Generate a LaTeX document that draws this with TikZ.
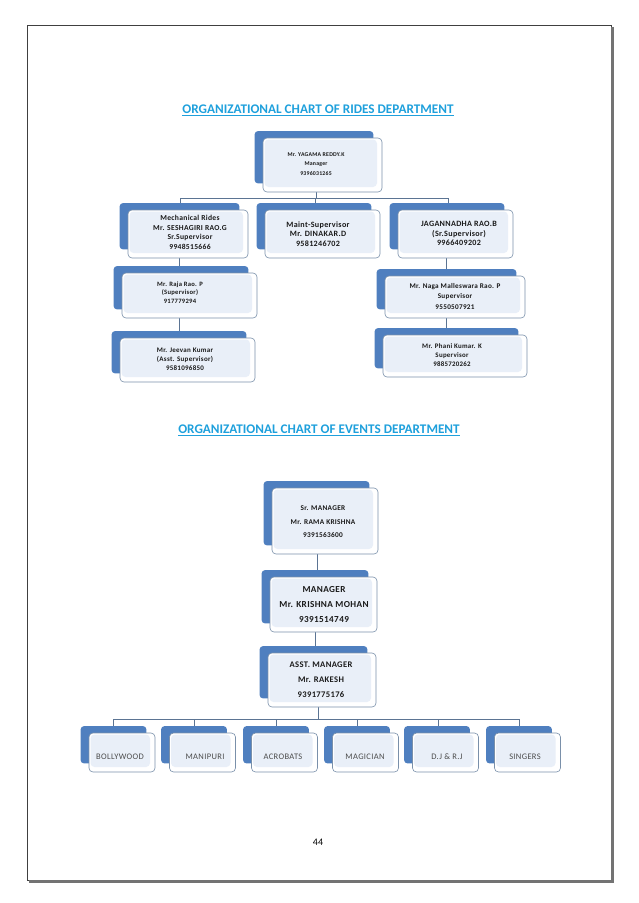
\documentclass[tikz,border=0pt]{standalone}
\usepackage{fontspec}
\setmainfont{Carlito}
\newfontfamily\bxfont[LetterSpace=4]{Carlito}
\usetikzlibrary{calc}
\pgfdeclarelayer{edges}
\pgfdeclarelayer{back}
\pgfsetlayers{edges,back,main}
\definecolor{backblue}{HTML}{4F7FBF}
\definecolor{palefill}{HTML}{E9EFF8}
\definecolor{frontline}{HTML}{7A90AA}
\definecolor{connline}{HTML}{5B7493}
\definecolor{titleblue}{HTML}{1EA0DC}
\definecolor{boxtext}{HTML}{1A1A1A}
\tikzset{
  frontbox/.style={draw=frontline, line width=0.6pt, fill=white, rounded corners=4pt, inner sep=0pt,
    path picture={\fill[palefill] ([xshift=1.5pt,yshift=-1.5pt]path picture bounding box.north west) rectangle ([xshift=-5pt,yshift=5pt]path picture bounding box.south east);}},
  conn/.style={draw=connline, line width=0.7pt},
  titletext/.style={font=\bfseries\fontsize{13.2}{15}\selectfont, text=titleblue, inner sep=0pt},
  btext/.style={align=center, text=boxtext, inner sep=0pt},
  leaftext/.style={font=\bxfont\fontsize{8.5}{10}\selectfont, text=black!70, inner sep=0pt},
}
\newcommand\obox[5]{%
  \node[frontbox, minimum width=#4pt, minimum height=#5pt] (#1) at (#2,#3) {};
  \begin{pgfonlayer}{back}
  \fill[backblue, rounded corners=3pt] ([xshift=-8pt,yshift=6.5pt]#1.north west) rectangle ([xshift=-9pt,yshift=9pt]#1.south east);
  \end{pgfonlayer}}
\newcommand\bfs[2]{\bxfont\bfseries\fontsize{#1}{#2}\selectfont}
\begin{document}
\begin{tikzpicture}[x=1pt,y=-1pt]
\useasboundingbox (0,0) rectangle (638,903);
% page frame
\draw[line width=1pt, black!75] (27,25) rectangle (611,880);
\fill[black!55] (611,27) rectangle (614,883);
\fill[black!55] (29,880) rectangle (614,883);

% titles
\node[titletext] (t1) at (318,110) {\underline{ORGANIZATIONAL CHART OF RIDES DEPARTMENT}};
\node[titletext] (t2) at (319,430) {\underline{ORGANIZATIONAL CHART OF EVENTS DEPARTMENT}};

% rides boxes
\obox{top}{322.5}{165}{119}{54}
\obox{mech}{188}{234}{120}{48}
\obox{maint}{322.5}{234}{115}{48}
\obox{jag}{455.5}{234}{115}{48}
\obox{raja}{189.5}{295.5}{135}{45}
\obox{jeevan}{187.5}{360}{135}{44}
\obox{naga}{455}{297}{140}{42}
\obox{phani}{455}{356}{144}{42}

\node[btext, font=\bfs{5.8}{9.5}] (topt) at (316,164) {Mr. YAGAMA REDDY.K\\Manager\\9396031265};
\node[btext, font=\bfs{7.6}{9.7}] (mecht) at (190,232.5) {Mechanical Rides\\Mr. SESHAGIRI RAO.G\\Sr.Supervisor\\9948515666};
\node[btext, font=\bfs{8.1}{9.4}] (maintt) at (318,234) {Maint-Supervisor\\Mr. DINAKAR.D\\9581246702};
\node[btext, font=\bfs{8.1}{9.6}] (jagt) at (459,233.5) {JAGANNADHA RAO.B\\(Sr.Supervisor)\\9966409202};
\node[btext, font=\bfs{6.6}{8.7}] (rajat) at (180,292.5) {Mr. Raja Rao. P\\(Supervisor)\\917779294};
\node[btext, font=\bfs{7}{9}] (jeevant) at (185,359) {Mr. Jeevan Kumar\\(Asst. Supervisor)\\9581096850};
\node[btext, font=\bfs{7.2}{10.5}] (nagat) at (455,296) {Mr. Naga Malleswara Rao. P\\Supervisor\\9550507921};
\node[btext, font=\bfs{6.9}{9.3}] (phanit) at (452,355) {Mr. Phani Kumar. K\\Supervisor\\9885720262};

% events boxes
\obox{sr}{325}{521}{106}{66}
\obox{mgr}{323.5}{604.5}{107}{55}
\obox{asst}{322}{680}{108}{54}
\node[btext, font=\bfs{7.3}{13.3}] (srt) at (323,521.7) {Sr. MANAGER\\Mr. RAMA KRISHNA\\9391563600};
\node[btext, font=\bfs{9.2}{15}] (mgrt) at (324,605) {MANAGER\\Mr. KRISHNA MOHAN\\9391514749};
\node[btext, font=\bfs{8.6}{15}] (asstt) at (321,680) {ASST. MANAGER\\Mr. RAKESH\\9391775176};

\obox{b1}{122}{752.5}{66}{39}
\obox{b2}{202.5}{752.5}{66}{39}
\obox{b3}{284.5}{752.5}{66}{39}
\obox{b4}{365.5}{752.5}{66}{39}
\obox{b5}{445.5}{752.5}{66}{39}
\obox{b6}{527.5}{752.5}{66}{39}
\node[leaftext] (b1t) at (120,757) {BOLLYWOOD};
\node[leaftext] (b2t) at (205,757) {MANIPURI};
\node[leaftext] (b3t) at (283,757) {ACROBATS};
\node[leaftext] (b4t) at (365,757) {MAGICIAN};
\node[leaftext] (b5t) at (447,757) {D.J \& R.J};
\node[leaftext] (b6t) at (525,757) {SINGERS};

% page number
\node[font=\fontsize{10}{12}\selectfont, inner sep=0pt] (pg) at (318,842) {44};

% connectors
\coordinate (bus1) at (0,198);
\coordinate (bus2) at (0,719);
\coordinate (xtop) at (316,0);
\coordinate (xmech) at (180,0);
\coordinate (xmaint) at (315,0);
\coordinate (xjag) at (448,0);
\coordinate (xleft) at (179,0);
\coordinate (xright) at (446,0);
\coordinate (xev1) at (317,0);
\coordinate (xev2) at (315,0);
\coordinate (xev3) at (318,0);
\coordinate (d1) at (113,0);
\coordinate (d2) at (194,0);
\coordinate (d3) at (276,0);
\coordinate (d4) at (357,0);
\coordinate (d5) at (438,0);
\coordinate (d6) at (519,0);
\begin{pgfonlayer}{edges}
\draw[conn] (top.south -| xtop) -- (bus1 -| xtop);
\draw[conn] (mech.north -| xmech) -- (bus1 -| xmech) -- (bus1 -| xjag) -- (jag.north -| xjag);
\draw[conn] (maint.north -| xmaint) -- (bus1 -| xmaint);
\draw[conn] (mech.south -| xleft) -- (raja.north -| xleft);
\draw[conn] (raja.south -| xleft) -- (jeevan.north -| xleft);
\draw[conn] (jag.south -| xright) -- (naga.north -| xright);
\draw[conn] (naga.south -| xright) -- (phani.north -| xright);
\draw[conn] (sr.south -| xev1) -- (mgr.north -| xev1);
\draw[conn] (mgr.south -| xev2) -- (asst.north -| xev2);
\draw[conn] (asst.south -| xev3) -- (bus2 -| xev3);
\draw[conn] (b1.north -| d1) -- (bus2 -| d1) -- (bus2 -| d6) -- (b6.north -| d6);
\draw[conn] (b2.north -| d2) -- (bus2 -| d2);
\draw[conn] (b3.north -| d3) -- (bus2 -| d3);
\draw[conn] (b4.north -| d4) -- (bus2 -| d4);
\draw[conn] (b5.north -| d5) -- (bus2 -| d5);
\end{pgfonlayer}
\end{tikzpicture}
\end{document}
